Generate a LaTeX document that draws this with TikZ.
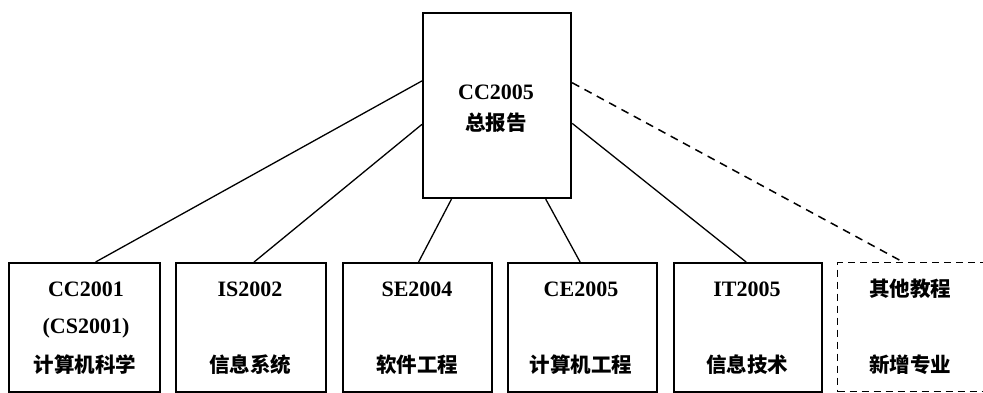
\documentclass[tikz,border=0pt]{standalone}
\usepackage{fontspec}
\setmainfont{Liberation Serif}
\newfontfamily\cjk{Noto Sans CJK SC}
\usetikzlibrary{calc}
\tikzset{
  box/.style={draw, line width=2.2pt, inner sep=0pt, anchor=north west},
  dbox/.style={draw, line width=1.4pt, dash pattern=on 7pt off 5pt, inner sep=0pt, anchor=north west},
  conn/.style={line width=1.3pt},
  dconn/.style={line width=1.5pt, dash pattern=on 8pt off 6pt},
  lat/.style={font=\bfseries\fontsize{22}{24}\selectfont, inner sep=0pt},
  han/.style={font=\cjk\bfseries\fontsize{20.5}{22}\selectfont, inner sep=0pt},
}
\begin{document}
\begin{tikzpicture}[x=1pt,y=-1pt]
\useasboundingbox (0,0) rectangle (983,393);
\clip (0,0) rectangle (983,393);
% top box
\node[box, minimum width=148pt, minimum height=185pt] (top) at (422,12) {};
\node[lat] (tt1) at (496,92) {CC2005};
\node[han] (tt2) at (496,123) {总报告};
% bottom boxes
\node[box, minimum width=151pt, minimum height=129pt] (b1) at (8,262) {};
\node[box, minimum width=150pt, minimum height=129pt] (b2) at (175,262) {};
\node[box, minimum width=149pt, minimum height=129pt] (b3) at (342,262) {};
\node[box, minimum width=149pt, minimum height=129pt] (b4) at (507,262) {};
\node[box, minimum width=148pt, minimum height=129pt] (b5) at (673,262) {};
\node[dbox, minimum width=160pt, minimum height=129pt] (b6) at (837,262) {};
% texts
\node[lat] (t11) at (86,289) {CC2001};
\node[lat] (t12) at (86,328) {(CS2001)};
\node[han] (t13) at (85,365) {计算机科学};
\node[lat] (t21) at (250,289) {IS2002};
\node[han] (t23) at (250,365) {信息系统};
\node[lat] (t31) at (417,289) {SE2004};
\node[han] (t33) at (417,365) {软件工程};
\node[lat] (t41) at (581,289) {CE2005};
\node[han] (t43) at (581,365) {计算机工程};
\node[lat] (t51) at (747,289) {IT2005};
\node[han] (t53) at (747,365) {信息技术};
\node[han] (t61) at (910,289) {其他教程};
\node[han] (t63) at (910,365) {新增专业};
% connectors
\coordinate (tl1) at ($(top.north west)!0.368!(top.south west)$);
\coordinate (tl2) at ($(top.north west)!0.6!(top.south west)$);
\coordinate (tr1) at ($(top.north east)!0.378!(top.south east)$);
\coordinate (tr2) at ($(top.north east)!0.595!(top.south east)$);
\coordinate (tb1) at ($(top.south west)!0.196!(top.south east)$);
\coordinate (tb2) at ($(top.south west)!0.824!(top.south east)$);
\draw[conn] (tl1) -- ([xshift=11pt]b1.north);
\draw[conn] (tl2) -- ([xshift=3pt]b2.north);
\draw[conn] (tb1) -- ([xshift=1pt]b3.north);
\draw[conn] (tb2) -- ([xshift=-2.5pt]b4.north);
\draw[conn] (tr2) -- ([xshift=-2pt]b5.north);
\draw[dconn] (tr1) -- ([xshift=66pt]b6.north west);
\end{tikzpicture}
\end{document}
